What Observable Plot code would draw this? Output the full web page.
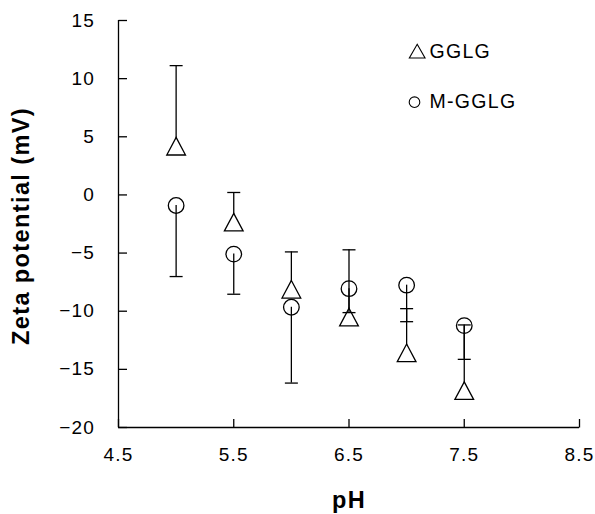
<!DOCTYPE html>
<html><head><meta charset="utf-8">
<script src="https://cdn.jsdelivr.net/npm/d3@7"></script>
<script src="https://cdn.jsdelivr.net/npm/@observablehq/plot@0.6"></script>
<style>
body{margin:0;background:#fff;}
#chart svg text{fill:#000;}
#chart g[aria-label="x-axis tick label"] text,
#chart g[aria-label="y-axis tick label"] text{letter-spacing:1.2px;}
</style></head><body><div id="chart"></div>
<script>
const pH = [5.0, 5.5, 6.0, 6.5, 7.0, 7.5];
const gglg = [4.19, -2.34, -8.11, -10.5, -13.58, -16.83];
const gglgErr = [6.93, 2.55, 3.21, 5.78, 3.8, 5.65];   // plus direction
const mgglg = [-0.91, -5.09, -9.66, -8.06, -7.76, -11.24];
const mgglgErr = [6.11, 3.45, 6.52, 2.06, 3.14, 2.9];  // minus direction
const xTicks = [4.5, 5.5, 6.5, 7.5, 8.5];
const yTicks = [-20, -15, -10, -5, 0, 5, 10, 15];
const seriesNames = ["GGLG", "M-GGLG"];
const xTitle = "pH";
const yTitle = "Zeta potential (mV)";

const gRows = pH.map((x, i) => ({x, y: gglg[i], end: gglg[i] + gglgErr[i]}));
const mRows = pH.map((x, i) => ({x, y: mgglg[i], end: mgglg[i] - mgglgErr[i]}));

const triSym = {draw(c){c.moveTo(0,-8.8);c.lineTo(9.35,8.8);c.lineTo(-9.35,8.8);c.closePath();}};
const legTri = {draw(c){c.moveTo(0,-6.85);c.lineTo(7.85,6.85);c.lineTo(-7.85,6.85);c.closePath();}};
const capSym = {draw(c){c.moveTo(-6.5,0);c.lineTo(6.5,0);}};
const tickRight = {draw(c){c.moveTo(0,0);c.lineTo(8.5,0);}};
const tickUp = {draw(c){c.moveTo(0,0);c.lineTo(0,-8.5);}};
const sw = 1.3;
const fmtY = d => d < 0 ? "\u2212" + (-d) : String(d);

const chart = Plot.plot({
  width: 595,
  height: 514,
  marginLeft: 118,
  marginRight: 16,
  marginTop: 20,
  marginBottom: 87,
  style: {fontFamily: "'Liberation Sans', Arial, sans-serif", fontSize: "19px", background: "#fff", color: "#000"},
  x: {domain: [xTicks[0], xTicks[xTicks.length - 1]]},
  y: {domain: [yTicks[0], yTicks[yTicks.length - 1]]},
  marks: [
    Plot.axisX(xTicks, {tickSize: 0, tickPadding: 19.5, tickFormat: d => d.toFixed(1), label: null}),
    Plot.axisY(yTicks, {tickSize: 0, tickPadding: 23.5, tickFormat: fmtY, label: null}),
    Plot.ruleY([yTicks[0]], {stroke: "#000", strokeWidth: sw}),
    Plot.ruleX([xTicks[0]], {stroke: "#000", strokeWidth: sw}),
    Plot.dot(yTicks, {y: d => d, frameAnchor: "left", symbol: tickRight, r: 1, stroke: "#000", fill: "none", strokeWidth: sw}),
    Plot.dot(xTicks, {x: d => d, frameAnchor: "bottom", symbol: tickUp, r: 1, stroke: "#000", fill: "none", strokeWidth: sw}),
    // GGLG error bars (upper)
    Plot.ruleX(gRows, {x: "x", y1: "y", y2: "end", stroke: "#000", strokeWidth: sw}),
    Plot.dot(gRows, {x: "x", y: "end", symbol: capSym, r: 1, stroke: "#000", fill: "none", strokeWidth: sw}),
    // GGLG markers
    Plot.dot(gRows, {x: "x", y: "y", symbol: triSym, r: 1, stroke: "#000", fill: "#fff", strokeWidth: sw}),
    // M-GGLG markers
    Plot.dot(mRows, {x: "x", y: "y", symbol: "circle", r: 7.8, stroke: "#000", fill: "none", strokeWidth: sw}),
    // M-GGLG error bars (lower)
    Plot.ruleX(mRows, {x: "x", y1: "y", y2: "end", stroke: "#000", strokeWidth: sw}),
    Plot.dot(mRows, {x: "x", y: "end", symbol: capSym, r: 1, stroke: "#000", fill: "none", strokeWidth: sw}),
    // legend
    Plot.dot([seriesNames[0]], {frameAnchor: "top-left", dx: 298.7, dy: 30.7, symbol: legTri, r: 1, stroke: "#000", fill: "none", strokeWidth: 1.1}),
    Plot.dot([seriesNames[1]], {frameAnchor: "top-left", dx: 296, dy: 81.7, symbol: "circle", r: 5.3, stroke: "#000", fill: "none", strokeWidth: 1.1}),
    Plot.text([seriesNames[0]], {text: d => d, frameAnchor: "top-left", dx: 311, dy: 31.2, textAnchor: "start", lineAnchor: "middle", fontSize: 19.5}),
    Plot.text([seriesNames[1]], {text: d => d, frameAnchor: "top-left", dx: 311, dy: 81.7, textAnchor: "start", lineAnchor: "middle", fontSize: 19.5}),
    // axis titles
    Plot.text([xTitle], {text: d => d, frameAnchor: "bottom", dy: 73, textAnchor: "middle", lineAnchor: "middle", fontSize: 23.5, fontWeight: "bold"}),
    Plot.text([yTitle], {text: d => d, frameAnchor: "left", dx: -97.5, dy: 2, rotate: -90, textAnchor: "middle", lineAnchor: "middle", fontSize: 23.5, fontWeight: "bold"})
  ]
});
d3.select(chart).selectAll("text").each(function () {
  const t = this.textContent;
  if (seriesNames.includes(t)) this.setAttribute("letter-spacing", "1.3px");
  else if (t === xTitle || t === yTitle) this.setAttribute("letter-spacing", "1.4px");
});
document.getElementById("chart").appendChild(chart);
</script>
</body></html>
